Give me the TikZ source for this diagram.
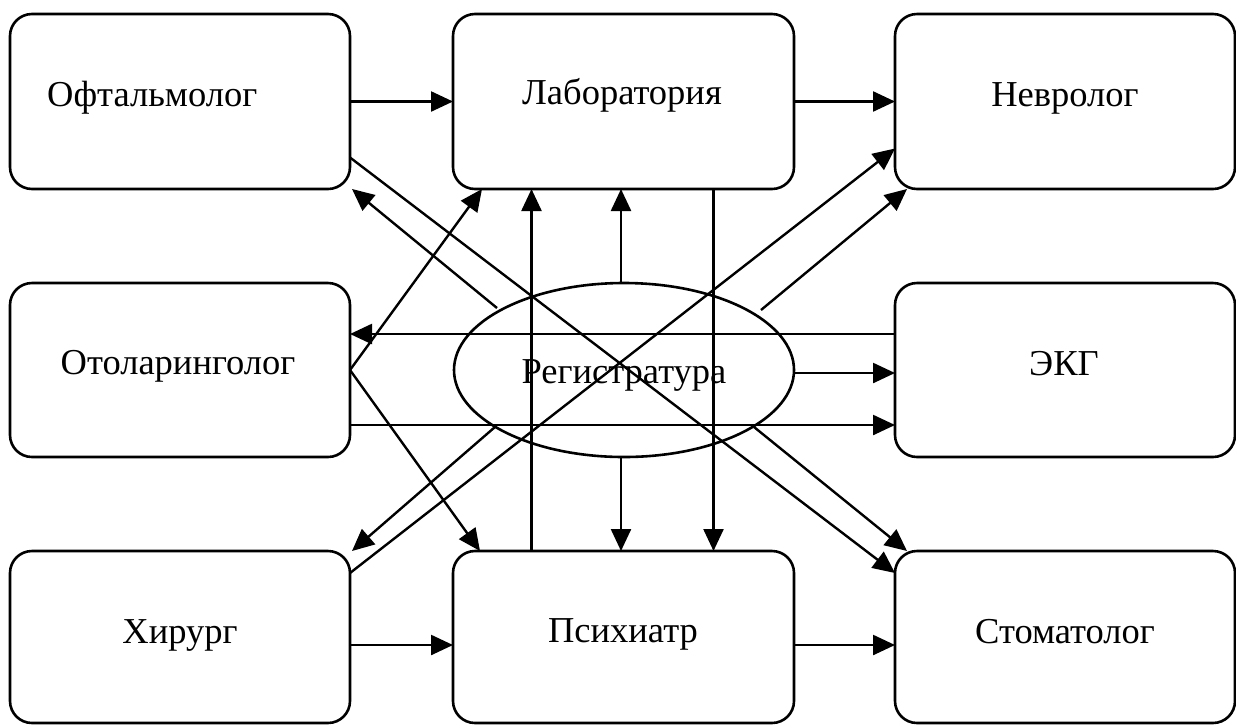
\documentclass[tikz,border=0pt]{standalone}
\usepackage{fontspec}
\setmainfont{Liberation Serif}
\usetikzlibrary{arrows.meta,shapes.geometric,calc}
\begin{document}
\begin{tikzpicture}[x=1pt,y=-1pt,
  box/.style={draw, line width=2.6pt, rounded corners=22pt, minimum width=340pt, inner sep=0pt, outer sep=0pt},
  lbl/.style={font=\fontsize{36.5}{42}\selectfont, anchor=base, inner sep=0pt},
  arr/.style={line width=2.4pt, -{Triangle[length=22pt,width=20pt]}}]
\useasboundingbox (0,0) rectangle (1236,724);
\fill[white] (0,0) rectangle (1236,724);
% boxes
\node[box, minimum height=175pt] (ofta) at (180,101.5) {};
\node[box, minimum height=175pt, minimum width=341pt] (lab) at (623.5,101.5) {};
\node[box, minimum height=175pt] (nevr) at (1065,101.5) {};
\node[box, minimum height=174pt] (oto) at (180,370) {};
\node[box, minimum height=174pt] (ekg) at (1065,370) {};
\node[box, minimum height=172pt] (hir) at (180,637) {};
\node[box, minimum height=172pt, minimum width=341pt] (psy) at (623.5,637) {};
\node[box, minimum height=172pt] (stom) at (1065,637) {};
\node[draw, ellipse, line width=2.6pt, minimum width=340pt, minimum height=174pt, inner sep=0pt, outer sep=0pt] (reg) at (624,370) {};
% texts
\node[lbl, anchor=base west] (tofta) at (47,106) {Офтальмолог};
\node[lbl] (tlab) at (622,104) {Лаборатория};
\node[lbl] (tnevr) at (1065,106) {Невролог};
\node[lbl] (toto) at (178,374) {Отоларинголог};
\node[lbl] (tekg) at (1064,375) {ЭКГ};
\node[lbl] (treg) at (624,383) {Регистратура};
\node[lbl] (thir) at (180,643) {Хирург};
\node[lbl] (tpsy) at (623,642) {Психиатр};
\node[lbl] (tstom) at (1065,643) {Стоматолог};
% connectors
\draw[arr] (ofta.east) -- (lab.west);
\draw[arr] (lab.east) -- (nevr.west);
\draw[arr] ([yshift=-8pt]hir.east) -- ([yshift=-8pt]psy.west);
\draw[arr] ([yshift=-8pt]psy.east) -- ([yshift=-8pt]stom.west);
\draw[arr] ([yshift=-3pt]reg.east) -- ([yshift=-3pt]ekg.west);
\draw[arr] ([yshift=-55pt]oto.east) -- ([yshift=-55pt]ekg.west);
\draw[arr] ([yshift=36pt]ekg.west) -- ([yshift=36pt]oto.east);
\draw[arr] ([xshift=-3pt]reg.north) -- ([xshift=-3pt]reg.north |- lab.south);
\draw[arr] ([xshift=-3pt]reg.south) -- ([xshift=-3pt]reg.south |- psy.north);
\draw[arr] ([xshift=-92pt]psy.north) -- ([xshift=-92pt]lab.south);
\draw[arr] ([xshift=90pt]lab.south) -- ([xshift=90pt]psy.north);
\draw[arr] (oto.east) -- ([xshift=29pt]lab.south west);
\draw[arr] (oto.east) -- ([xshift=27pt]psy.north west);
\draw[arr] ([yshift=64pt]hir.east) -- ([yshift=-47pt]nevr.west);
\draw[arr] ([shift={(137pt,60pt)}]reg.center) -- ([xshift=12pt]nevr.south west);
\draw[arr] ([shift={(-127pt,62pt)}]reg.center) -- ([xshift=2pt]ofta.south east);
\draw[arr] ([yshift=-56pt]ofta.east) -- ([yshift=64pt]stom.west);
\draw[arr] ([shift={(-129pt,-57pt)}]reg.center) -- ([xshift=2pt]hir.north east);
\draw[arr] ([shift={(130pt,-57pt)}]reg.center) -- ([xshift=12pt]stom.north west);
\end{tikzpicture}
\end{document}
